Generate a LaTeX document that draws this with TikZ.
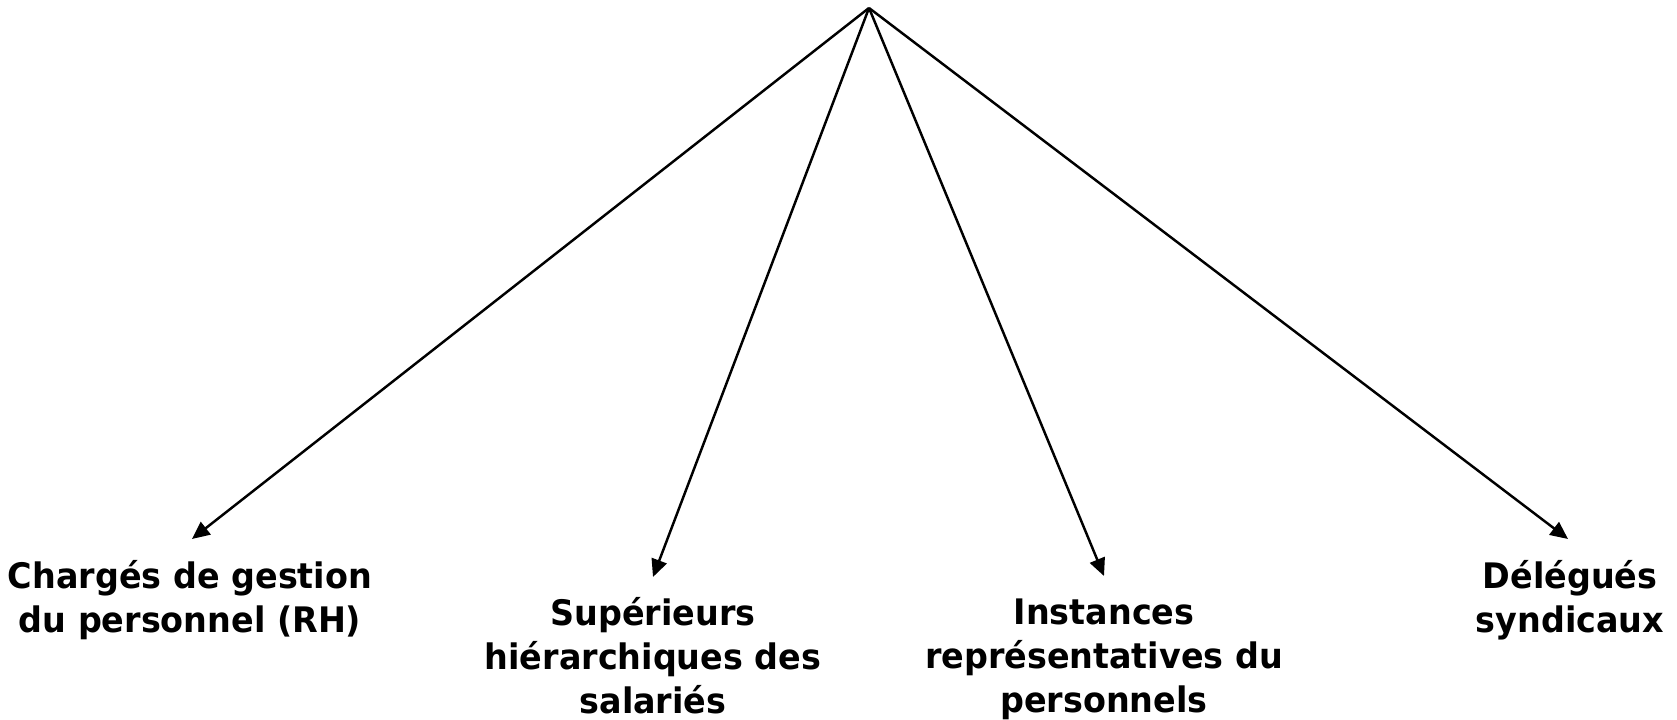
\documentclass[tikz,border=0pt]{standalone}
\usepackage{fontspec}
\setmainfont{DejaVu Sans}[FakeStretch=0.95]
\usetikzlibrary{arrows.meta}

\begin{document}
\begin{tikzpicture}
			\useasboundingbox (0,0) rectangle (16.77,7.20);
			\tikzstyle{every node}=[font=\bfseries\fontsize{10}{12.5}\selectfont,align=center,anchor=north,inner sep=0pt]
			\tikzstyle{fleche}=[-{Triangle[length=5pt,width=4.5pt]},line width=0.7pt]
			\coordinate (sommet) at (8.69,7.12);
			\coordinate (pRH) at (1.92,1.81);
			\coordinate (pSup) at (6.53,1.43);
			\coordinate (pInst) at (11.04,1.44);
			\coordinate (pDel) at (15.68,1.81);
			\node (rh) at (1.90,1.60) {Chargés de gestion\\du personnel (RH)};
			\node (sup) at (6.53,1.23) {Supérieurs\\hiérarchiques des\\salariés};
			\node (inst) at (11.04,1.22) {Instances\\représentatives du\\personnels};
			\node (del) at (15.70,1.60) {Délégués\\syndicaux};
			\draw[fleche] (sommet) -- (pRH);
			\draw[fleche] (sommet) -- (pSup);
			\draw[fleche] (sommet) -- (pInst);
			\draw[fleche] (sommet) -- (pDel);
		\end{tikzpicture}
\end{document}
